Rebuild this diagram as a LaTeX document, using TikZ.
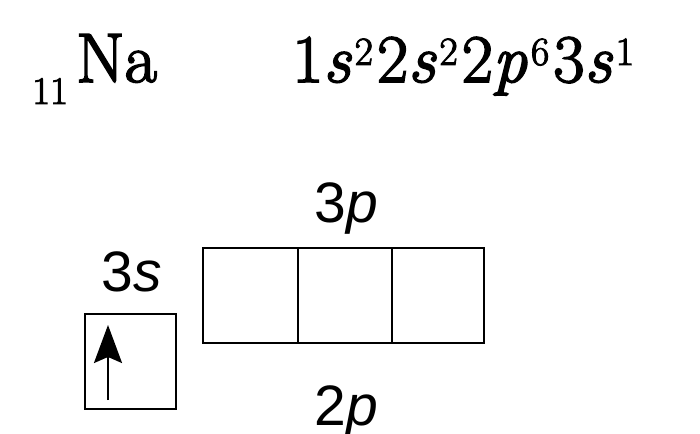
\documentclass[tikz,border=0pt]{standalone}
\usepackage{fontspec}
\newfontfamily\labfont{Liberation Sans}
\newfontfamily\symfont{Latin Modern Roman}[FakeBold=2.5]
\usetikzlibrary{arrows.meta}
\newcommand{\supx}[1]{\hspace{4pt}\raisebox{17pt}{\fontsize{40}{44}\selectfont #1}\hspace{4pt}}
\begin{document}
\begin{tikzpicture}[x=1pt,y=1pt,
  orb/.style={draw=black,line width=2.6pt},
  bigtxt/.style={inner sep=0pt,anchor=base west,font=\symfont\fontsize{70}{80}\selectfont},
  lab/.style={inner sep=0pt,anchor=base,font=\labfont\fontsize{57}{64}\selectfont}]
\useasboundingbox (0,0) rectangle (700,433);
% element symbol
\node[inner sep=0pt,anchor=base west,font=\symfont\fontsize{39}{44}\selectfont] (z) at (32,329) {11};
\node[bigtxt] (na) at (76,351) {Na};
% configuration
\node[bigtxt,font=\symfont\fontsize{68}{80}\selectfont] (cfg) at (292,351)
  {1{\itshape s}\supx{2}2{\itshape s}\supx{2}2{\itshape p}\supx{6}3{\itshape s}\supx{1}};
% 3s orbital
\node[orb,minimum width=91pt,minimum height=95pt,inner sep=0pt] (s3) at (130.5,71.5) {};
\coordinate (ab) at (108,33);
\coordinate (at) at (108,108);
\draw[line width=2.2pt,-{Stealth[length=38pt,width=28pt,inset=6pt]}] (ab) -- (at);
% 3p orbitals
\node[orb,minimum width=95pt,minimum height=95pt,inner sep=0pt] (p1) at (250.5,137.5) {};
\node[orb,minimum width=94pt,minimum height=95pt,inner sep=0pt] (p2) at (345,137.5) {};
\node[orb,minimum width=92pt,minimum height=95pt,inner sep=0pt] (p3) at (438,137.5) {};
% labels
\node[lab] (l3s) at (132,141) {3\textit{s}};
\node[lab] (l3p) at (346,210) {3\textit{p}};
\node[lab] (l2p) at (346,8) {2\textit{p}};
\end{tikzpicture}
\end{document}
